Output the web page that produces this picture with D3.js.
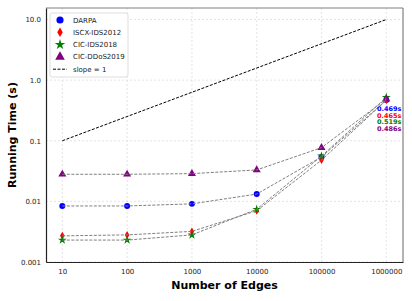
<!DOCTYPE html>
<html>
<head>
<meta charset="utf-8">
<script src="https://cdn.jsdelivr.net/npm/d3@7"></script>
<style>
  body { margin: 0; background: #fff; }
  svg { display: block; font-family: "DejaVu Sans", sans-serif; }
  .grid line { stroke: #d9d9d9; stroke-dasharray: 2,2; stroke-width: 0.7; }
</style>
</head>
<body>
<div id="chart"></div>
<script>
// data
const edges = [10, 100, 1000, 10000, 100000, 1000000];
const edgeLabels = ['10', '100', '1000', '10000', '100000', '1000000'];
const darpa = [0.0084, 0.0084, 0.0091, 0.0132, 0.054, 0.469];
const iscx = [0.0027, 0.0028, 0.0032, 0.0070, 0.048, 0.465];
const cicIds = [0.0023, 0.0023, 0.0028, 0.0074, 0.056, 0.519];
const cicDdos = [0.028, 0.028, 0.0287, 0.033, 0.077, 0.486];
const slopeY = [0.1, 10];
const yTicks = [0.001, 0.01, 0.1, 1, 10];
const yTickLabels = ['0.001', '0.01', '0.1', '1.0', '10.0'];

const series = [
    { name: 'DARPA', values: darpa, color: '#0000ff', shape: 'circle' },
    { name: 'ISCX-IDS2012', values: iscx, color: '#ff0000', shape: 'diamond' },
    { name: 'CIC-IDS2018', values: cicIds, color: '#008000', shape: 'star' },
    { name: 'CIC-DDoS2019', values: cicDdos, color: '#800080', shape: 'triangle' }
];

const width = 412, height = 301;
const margin = { left: 46, right: 9, top: 8, bottom: 39 };

const svg = d3.select('#chart').append('svg')
    .attr('width', width)
    .attr('height', height);

const x = d3.scaleLog()
    .domain([Math.pow(10, 0.748), Math.pow(10, 6.258)])
    .range([margin.left, width - margin.right]);

const y = d3.scaleLog()
    .domain([0.001, Math.pow(10, 1.19)])
    .range([height - margin.bottom, margin.top]);

// grid
const grid = svg.append('g').attr('class', 'grid');
grid.selectAll('.gx').data(edges).join('line')
    .attr('x1', d => x(d)).attr('x2', d => x(d))
    .attr('y1', margin.top).attr('y2', height - margin.bottom);
grid.selectAll('.gy').data(yTicks).join('line')
    .attr('y1', d => y(d)).attr('y2', d => y(d))
    .attr('x1', margin.left).attr('x2', width - margin.right);

// slope = 1 reference line
svg.append('line')
    .attr('x1', x(edges[0])).attr('y1', y(slopeY[0]))
    .attr('x2', x(edges[edges.length - 1])).attr('y2', y(slopeY[1]))
    .attr('stroke', '#000')
    .attr('stroke-width', 1)
    .attr('stroke-dasharray', '3,1.5');

// marker symbols
function drawMarker(g, shape, color, k) {
    k = k || 1;
    let d;
    if (shape === 'diamond') {
        d = `M0,${-4 * k}L${2.3 * k},0L0,${4 * k}L${-2.3 * k},0Z`;
    } else if (shape === 'circle') {
        d = d3.symbol().type(d3.symbolCircle).size(28 * k * k)();
    } else if (shape === 'star') {
        d = d3.symbol().type(d3.symbolStar).size(24 * k * k)();
    } else {
        d = d3.symbol().type(d3.symbolTriangle).size(28 * k * k)();
    }
    g.append('path').attr('d', d).attr('fill', color);
}

// markers
series.forEach(s => {
    s.values.forEach((v, i) => {
        const g = svg.append('g').attr('transform', `translate(${x(edges[i])},${y(v)})`);
        drawMarker(g, s.shape, s.color);
    });
});

// dashed connecting lines
const line = d3.line()
    .x((d, i) => x(edges[i]))
    .y(d => y(d));
series.forEach(s => {
    svg.append('path')
        .datum(s.values)
        .attr('d', line)
        .attr('fill', 'none')
        .attr('stroke', '#7f7f7f')
        .attr('stroke-width', 1)
        .attr('stroke-dasharray', '3,1.5');
});

// labels at last point
series.forEach((s, i) => {
    svg.append('text')
        .attr('x', x(edges[edges.length - 1]) + 3)
        .attr('y', 111 + i * 6.7)
        .attr('text-anchor', 'middle')
        .attr('font-size', 6.5)
        .attr('font-weight', 'bold')
        .attr('fill', s.color)
        .text(s.values[s.values.length - 1].toFixed(3) + 's');
});

// frame
svg.append('line').attr('x1', margin.left).attr('x2', width - margin.right)
    .attr('y1', margin.top).attr('y2', margin.top).attr('stroke', '#808080').attr('stroke-width', 1.2);
svg.append('line').attr('x1', width - margin.right).attr('x2', width - margin.right)
    .attr('y1', margin.top).attr('y2', height - margin.bottom).attr('stroke', '#808080').attr('stroke-width', 1.2);

// axes
const xAxis = d3.axisBottom(x).tickValues(edges)
    .tickFormat((d, i) => edgeLabels[i]).tickSize(0).tickPadding(7);
const gx = svg.append('g')
    .attr('transform', `translate(0,${height - margin.bottom})`)
    .call(xAxis);
gx.select('.domain').attr('stroke', '#222').attr('stroke-width', 1.2);
gx.selectAll('text').attr('font-size', 7).attr('font-family', 'DejaVu Sans').attr('fill', '#222');

const yAxis = d3.axisLeft(y).tickValues(yTicks)
    .tickFormat((d, i) => yTickLabels[i]).tickSize(0).tickPadding(5);
const gy = svg.append('g')
    .attr('transform', `translate(${margin.left},0)`)
    .call(yAxis);
gy.select('.domain').attr('stroke', '#222').attr('stroke-width', 1.2);
gy.selectAll('text').attr('font-size', 7).attr('font-family', 'DejaVu Sans').attr('fill', '#222');

// axis titles
svg.append('text')
    .attr('x', (margin.left + width - margin.right) / 2)
    .attr('y', 289)
    .attr('text-anchor', 'middle')
    .attr('font-size', 11)
    .attr('font-weight', 'bold')
    .text('Number of Edges');

svg.append('text')
    .attr('transform', `translate(16,${(margin.top + height - margin.bottom) / 2}) rotate(-90)`)
    .attr('text-anchor', 'middle')
    .attr('font-size', 11)
    .attr('font-weight', 'bold')
    .text('Running Time (s)');

// legend
const legend = svg.append('g').attr('transform', 'translate(50,13)');
legend.append('rect')
    .attr('width', 78).attr('height', 64).attr('rx', 2)
    .attr('fill', '#fff').attr('fill-opacity', 0.85)
    .attr('stroke', '#d6d6d6').attr('stroke-width', 0.8);
series.forEach((s, i) => {
    const row = legend.append('g').attr('transform', `translate(10,${7 + i * 12.3})`);
    drawMarker(row, s.shape, s.color, 1.2);
    row.append('text').attr('x', 13).attr('y', 2.5)
        .attr('font-size', 7).attr('fill', '#222').text(s.name);
});
const slopeRow = legend.append('g').attr('transform', `translate(10,${7 + 4 * 12.3})`);
slopeRow.append('line').attr('x1', -7).attr('x2', 7)
    .attr('stroke', '#000').attr('stroke-width', 1).attr('stroke-dasharray', '3,1.5');
slopeRow.append('text').attr('x', 13).attr('y', 2.5)
    .attr('font-size', 7).attr('fill', '#222').text('slope = 1');
</script>
</body>
</html>
